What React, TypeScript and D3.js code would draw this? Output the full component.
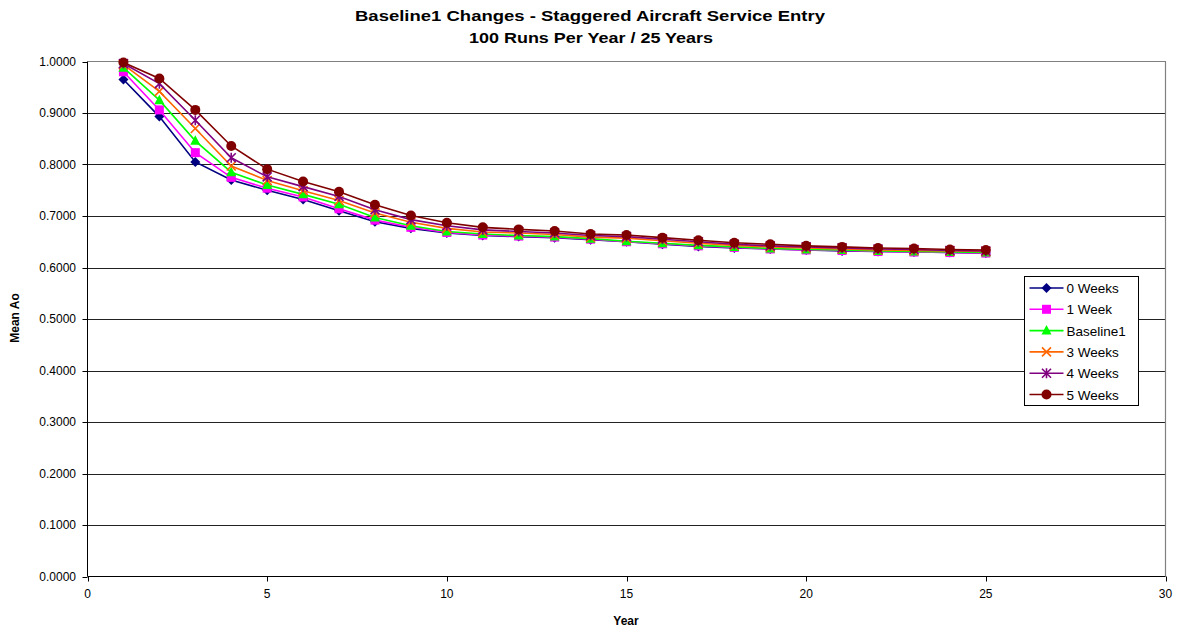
import React from "react";
import * as d3 from "d3";

const years = d3.range(1, 26);

const seriesNames = ["0 Weeks", "1 Week", "Baseline1", "3 Weeks", "4 Weeks", "5 Weeks"];

const weeks0 = [0.965, 0.893, 0.805, 0.770, 0.750, 0.732, 0.710, 0.689, 0.676, 0.667, 0.662, 0.660, 0.658, 0.654, 0.650, 0.645, 0.641, 0.638, 0.636, 0.634, 0.632, 0.631, 0.630, 0.629, 0.628];
const weeks1 = [0.980, 0.906, 0.823, 0.775, 0.754, 0.737, 0.714, 0.692, 0.678, 0.668, 0.663, 0.661, 0.659, 0.655, 0.650, 0.646, 0.642, 0.639, 0.636, 0.634, 0.633, 0.631, 0.630, 0.629, 0.628];
const baseline1 = [0.988, 0.925, 0.846, 0.785, 0.760, 0.742, 0.723, 0.697, 0.681, 0.670, 0.665, 0.662, 0.660, 0.656, 0.651, 0.647, 0.643, 0.640, 0.637, 0.635, 0.634, 0.632, 0.631, 0.630, 0.629];
const weeks3 = [0.994, 0.942, 0.870, 0.797, 0.769, 0.749, 0.730, 0.706, 0.688, 0.676, 0.669, 0.667, 0.664, 0.659, 0.657, 0.652, 0.647, 0.643, 0.640, 0.638, 0.636, 0.634, 0.633, 0.632, 0.631];
const weeks4 = [0.996, 0.957, 0.886, 0.813, 0.776, 0.757, 0.738, 0.712, 0.693, 0.681, 0.673, 0.670, 0.667, 0.662, 0.660, 0.655, 0.650, 0.645, 0.642, 0.640, 0.638, 0.636, 0.635, 0.633, 0.632];
const weeks5 = [0.998, 0.967, 0.906, 0.836, 0.791, 0.767, 0.747, 0.722, 0.701, 0.687, 0.678, 0.674, 0.671, 0.665, 0.663, 0.658, 0.653, 0.648, 0.645, 0.642, 0.640, 0.638, 0.637, 0.635, 0.634];

const seriesValues = [weeks0, weeks1, baseline1, weeks3, weeks4, weeks5];
const seriesColors = ["#000080", "#FF00FF", "#00FF00", "#FF6600", "#800080", "#800000"];
const markerKinds = ["diamond", "square", "triangle", "x", "star", "circle"];

const xTicks = [0, 5, 10, 15, 20, 25, 30];
const yTicks = d3.range(0, 11).map((i) => i / 10);

const W = 1181;
const H = 629;
const margin = { left: 87.5, right: 1165.5, top: 61.5, bottom: 576.5 };
const FONT = "'Liberation Sans', Arial, sans-serif";

function Marker({ kind, x, y, color }: { kind: string; x: number; y: number; color: string }) {
  switch (kind) {
    case "diamond":
      return <path d={`M${x},${y - 5}L${x + 5},${y}L${x},${y + 5}L${x - 5},${y}Z`} fill={color} />;
    case "square":
      return <rect x={x - 4.5} y={y - 4.5} width={9} height={9} fill={color} />;
    case "triangle":
      return <path d={`M${x},${y - 5.5}L${x + 5},${y + 4}L${x - 5},${y + 4}Z`} fill={color} />;
    case "x":
      return (
        <path d={`M${x - 4.5},${y - 4.5}L${x + 4.5},${y + 4.5}M${x + 4.5},${y - 4.5}L${x - 4.5},${y + 4.5}`} stroke={color} strokeWidth={1.6} fill="none" />
      );
    case "star":
      return (
        <path
          d={`M${x - 4.5},${y - 4.5}L${x + 4.5},${y + 4.5}M${x + 4.5},${y - 4.5}L${x - 4.5},${y + 4.5}M${x},${y - 5}L${x},${y + 5}`}
          stroke={color}
          strokeWidth={1.6}
          fill="none"
        />
      );
    default:
      return <circle cx={x} cy={y} r={5} fill={color} />;
  }
}

export default function App() {
  const x = d3.scaleLinear().domain([0, 30]).range([margin.left, margin.right]);
  const y = d3.scaleLinear().domain([0, 1]).range([margin.bottom, margin.top]);
  const line = d3
    .line<number>()
    .x((_, i) => x(years[i]))
    .y((v) => y(v));

  const legendX = 1024.5;
  const legendY = 276.5;
  const legendRow = 21.3;

  return (
    <svg width={W} height={H} style={{ position: "absolute", left: 0, top: 0, background: "#fff" }} fontFamily={FONT}>
      <rect x={0} y={0} width={W} height={H} fill="#fff" />
      {/* titles */}
      <text x={590} y={21} textAnchor="middle" fontWeight="bold" fontSize={15} textLength={470} lengthAdjust="spacingAndGlyphs">
        Baseline1 Changes - Staggered Aircraft Service Entry
      </text>
      <text x={591} y={43} textAnchor="middle" fontWeight="bold" fontSize={15} textLength={244} lengthAdjust="spacingAndGlyphs">
        100 Runs Per Year / 25 Years
      </text>

      {/* gridlines */}
      {yTicks.slice(1, -1).map((t) => (
        <line key={t} x1={margin.left} x2={margin.right} y1={Math.round(y(t)) + 0.5} y2={Math.round(y(t)) + 0.5} stroke="#222" strokeWidth={1} />
      ))}
      {/* plot border (top and right) */}
      <path d={`M${margin.left},${margin.top}H${margin.right}V${margin.bottom}`} stroke="#808080" fill="none" strokeWidth={1.2} />

      {/* axes */}
      <line x1={margin.left} x2={margin.left} y1={margin.top} y2={margin.bottom} stroke="#000" />
      <line x1={margin.left} x2={margin.right} y1={margin.bottom} y2={margin.bottom} stroke="#000" />
      {yTicks.map((t) => (
        <g key={t}>
          <line x1={margin.left - 5} x2={margin.left} y1={Math.round(y(t)) + 0.5} y2={Math.round(y(t)) + 0.5} stroke="#000" />
          <text x={76} y={y(t) + 4} textAnchor="end" fontSize={12}>
            {t.toFixed(4)}
          </text>
        </g>
      ))}
      {xTicks.map((t) => (
        <g key={t}>
          <line x1={Math.round(x(t)) + 0.5} x2={Math.round(x(t)) + 0.5} y1={margin.bottom} y2={margin.bottom + 5} stroke="#000" />
          <text x={x(t)} y={598} textAnchor="middle" fontSize={12}>
            {t}
          </text>
        </g>
      ))}
      <text x={626} y={625} textAnchor="middle" fontWeight="bold" fontSize={12}>
        Year
      </text>
      <text transform={`translate(19,318) rotate(-90)`} textAnchor="middle" fontWeight="bold" fontSize={12}>
        Mean Ao
      </text>

      {/* series */}
      {seriesValues.map((vals, si) => (
        <g key={seriesNames[si]}>
          <path d={line(vals) || ""} fill="none" stroke={seriesColors[si]} strokeWidth={1.6} />
          {vals.map((v, i) => (
            <Marker key={i} kind={markerKinds[si]} x={x(years[i])} y={y(v)} color={seriesColors[si]} />
          ))}
        </g>
      ))}

      {/* legend */}
      <rect x={legendX} y={legendY} width={114} height={129} fill="#fff" stroke="#000" />
      {seriesNames.map((name, i) => {
        const cy = legendY + 11.5 + i * legendRow;
        return (
          <g key={name}>
            <line x1={legendX + 5} x2={legendX + 39} y1={cy} y2={cy} stroke={seriesColors[i]} strokeWidth={1.6} />
            <Marker kind={markerKinds[i]} x={legendX + 22} y={cy} color={seriesColors[i]} />
            <text x={legendX + 42} y={cy + 5} fontSize={13.5}>
              {name}
            </text>
          </g>
        );
      })}
    </svg>
  );
}
